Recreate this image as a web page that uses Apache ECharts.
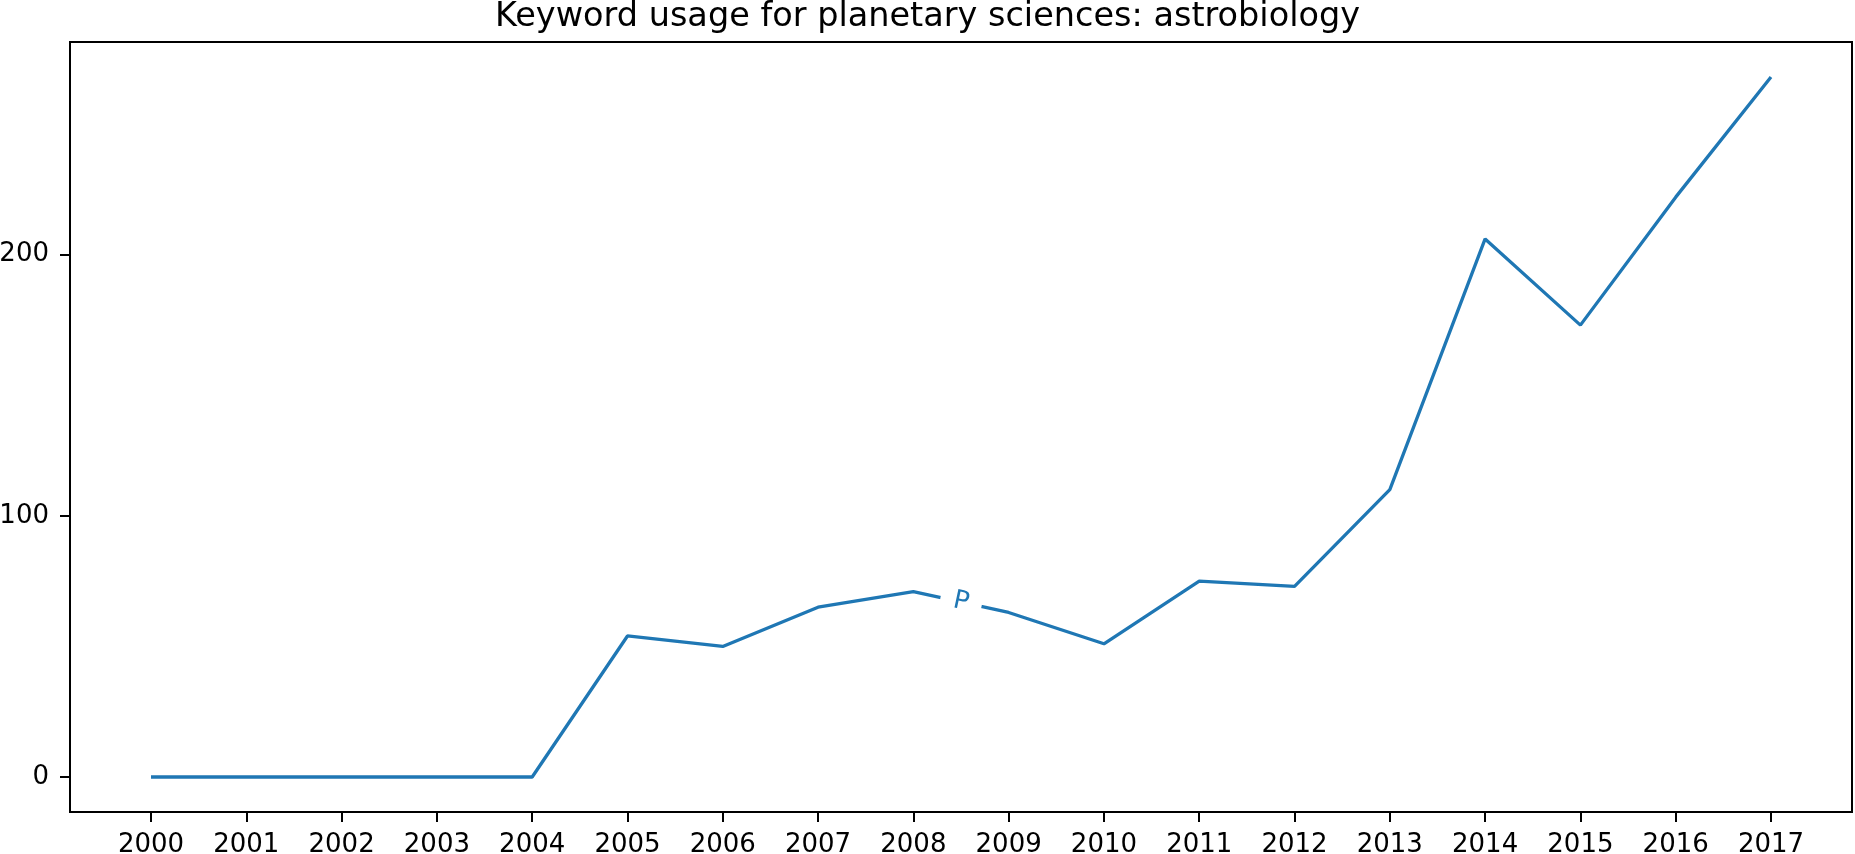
<!DOCTYPE html>
<html>
<head>
<meta charset="utf-8">
<script src="https://cdn.jsdelivr.net/npm/echarts@6/dist/echarts.min.js"></script>
<style>
html,body{margin:0;padding:0;background:#fff;}
#chart{width:1855px;height:854px;}
</style>
</head>
<body>
<div id="chart"></div>
<script>
const titleText = 'Keyword usage for planetary sciences: astrobiology';
const years = [2000,2001,2002,2003,2004,2005,2006,2007,2008,2009,2010,2011,2012,2013,2014,2015,2016,2017];
const counts = [0,0,0,0,0,54,50,65,71,63,51,75,73,110,206,173,222,268];
const yTicks = [0,100,200];
const seriesLabel = 'P';
const labelAt = [2008.5, 67];

const font = 'DejaVu Sans';
const chart = echarts.init(document.getElementById('chart'));
chart.setOption({
  animation: false,
  backgroundColor: '#fff',
  title: {
    text: titleText, left: 'center', top: 0, padding: 0,
    textStyle: {fontFamily: font, fontSize: 33.5, fontWeight: 'normal', color: '#000'}
  },
  grid: {left: 70, right: 3, top: 42, bottom: 42, show: true, borderColor: '#000', borderWidth: 2, containLabel: false, outerBoundsMode: 'none'},
  xAxis: {
    type: 'value', min: 1999.15, max: 2017.85,
    axisLine: {show: true, onZero: false, lineStyle: {color: '#000', width: 2}},
    axisTick: {show: true, inside: false, length: 10, lineStyle: {color: '#000', width: 2}, customValues: years},
    axisLabel: {customValues: years, formatter: v => String(v), fontFamily: font, fontSize: 26, color: '#000', margin: 20},
    splitLine: {show: false}
  },
  yAxis: {
    type: 'value', min: -13.4, max: 281.4,
    axisLine: {show: true, onZero: false, lineStyle: {color: '#000', width: 2}},
    axisTick: {show: true, inside: false, length: 10, lineStyle: {color: '#000', width: 2}, customValues: yTicks},
    axisLabel: {customValues: yTicks, formatter: v => String(v), fontFamily: font, fontSize: 26, color: '#000', margin: 21},
    splitLine: {show: false}
  },
  series: [{
    type: 'line',
    data: years.map((y, i) => [y, counts[i]]),
    showSymbol: false,
    lineStyle: {color: '#1f77b4', width: 3.3},
    itemStyle: {color: '#1f77b4'},
    markPoint: {
      silent: true,
      symbol: 'rect',
      symbolSize: [42, 30],
      symbolRotate: -12,
      itemStyle: {color: '#fff'},
      label: {show: true, position: 'inside', formatter: seriesLabel, color: '#1f77b4', fontFamily: font, fontSize: 26, rotate: -12},
      data: [{coord: labelAt}]
    }
  }]
});
</script>
</body>
</html>
